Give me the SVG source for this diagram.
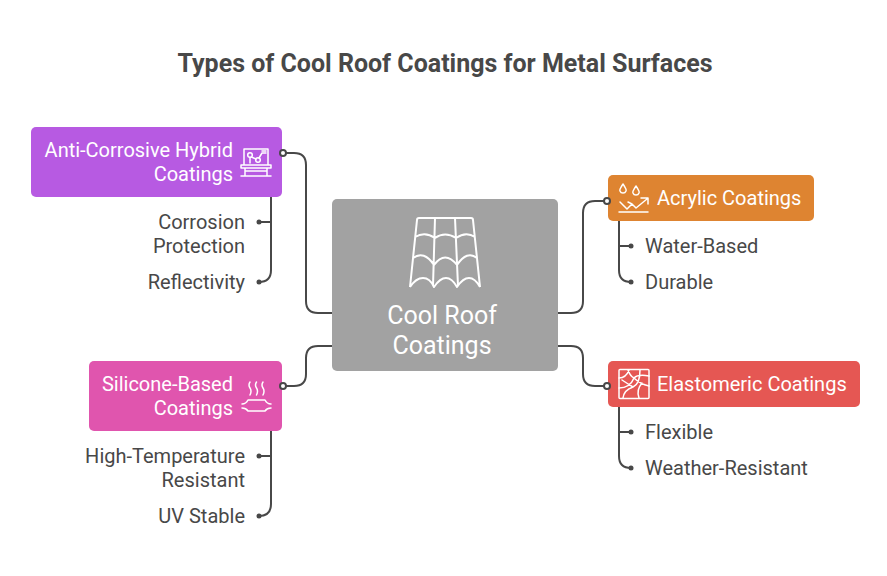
<svg xmlns="http://www.w3.org/2000/svg" width="887" height="576" viewBox="0 0 887 576">
<style>
text{font-family:Roboto,"Liberation Sans",sans-serif}
.t{fill:#fff;font-size:20px}
.b{fill:#fff;font-size:25px;text-anchor:middle}
.s{fill:#484848;font-size:20px}
.e{text-anchor:end}
.c{fill:none;stroke:#484848;stroke-width:2;stroke-linecap:round}
.d{fill:#484848}
.o{fill:#fff;stroke:#484848;stroke-width:2}
.i{fill:none;stroke:#fff;stroke-width:1.5;stroke-linecap:round;stroke-linejoin:round}
</style>
<rect width="887" height="576" fill="#fff"/>
<text id="title" x="445" y="72" text-anchor="middle" font-size="25" font-weight="700" fill="#484848">Types of Cool Roof Coatings for Metal Surfaces</text>
<g id="connectors">
<path class="c" d="M283 153H294Q306 153 306 165V301Q306 313 318 313H332"/>
<path class="c" d="M283 386H294Q306 386 306 374V358Q306 346 318 346H332"/>
<path class="c" d="M558 313H571Q583 313 583 301V213Q583 201 595 201H607"/>
<path class="c" d="M558 346H571Q583 346 583 358V374Q583 386 595 386H607"/>
<path class="c" d="M271 197V270Q271 282 259 282M271 222H259"/>
<path class="c" d="M271 431V504Q271 516 259 516M271 456H259"/>
<path class="c" d="M619 221V270Q619 282 631 282M619 246H631"/>
<path class="c" d="M619 407V456Q619 468 631 468M619 432H631"/>
<g class="d"><circle cx="259" cy="222" r="2.5"/><circle cx="259" cy="282" r="2.5"/><circle cx="259" cy="456" r="2.5"/><circle cx="259" cy="516" r="2.5"/><circle cx="631" cy="246" r="2.5"/><circle cx="631" cy="282" r="2.5"/><circle cx="631" cy="432" r="2.5"/><circle cx="631" cy="468" r="2.5"/></g>
</g>
<g id="node-center">
<rect x="332" y="199" width="226" height="172" rx="5" fill="#a2a2a2"/>
<path d="M419 218H471Q473 218 473 220L480 287M419 218Q417 218 417 220L410 287M435 218L433 286M455 218L458 286M415 237Q425 231 435 238Q445 231 456 238Q466 231 475 237M413 258Q424 250 434 265Q445 250 457 265Q467 250 477 258M410 287Q416 278 423 278Q430 278 434 287Q440 278 446 278Q452 278 457 287Q463 278 469 278Q475 278 480 287" fill="none" stroke="#fff" stroke-width="2" stroke-linejoin="round"/>
<text class="b" x="442" y="324">Cool Roof</text>
<text class="b" x="442" y="354">Coatings</text>
</g>
<g id="node-anti-corrosive">
<rect x="31" y="127" width="251" height="70" rx="5" fill="#b75ae2"/>
<text class="t e" x="233" y="157">Anti-Corrosive Hybrid</text>
<text class="t e" x="233" y="181">Coatings</text>
<path class="i" d="M244 165V149H268V165M241 165H271V168H241ZM245 168V176M267 168V176M245 171H267M241 176H271"/>
<circle class="i" cx="250" cy="155" r="2.3"/><circle class="i" cx="258" cy="160" r="2.3"/>
<path class="i" d="M251.500 157L256 159M250 157.500V163M259 158L262 153H266M262 151H266"/>
<circle class="o" cx="283" cy="153" r="3"/>
</g>
<g id="node-silicone">
<rect x="89" y="361" width="193" height="70" rx="5" fill="#e055ae"/>
<text class="t e" x="233" y="391">Silicone-Based</text>
<text class="t e" x="233" y="415">Coatings</text>
<path class="i" d="M250 382Q248 385 250 388T250 395M256.500 382Q254.500 385 256.500 388T256.500 395M263 382Q261 385 263 388T263 395M242 404Q246 404 248 400H265Q267 404 271 404M242 408Q246 408 248 411H265Q267 408 271 408"/>
<circle class="o" cx="283" cy="386" r="3"/>
</g>
<g id="node-acrylic">
<rect x="608" y="175" width="206" height="46" rx="5" fill="#de8431"/>
<text class="t" x="657" y="205">Acrylic Coatings</text>
<path class="i" d="M623 184Q619 190 620 191A3.200 3.200 0 0 0 626 191Q627 190 623 184ZM636 186Q632 192 633 193A3.200 3.200 0 0 0 639 193Q640 192 636 186ZM619 212H648M620 202L627 209L632 204L636 208L647 199M641 198H648V204M628 202L632 204"/>
<circle class="o" cx="607" cy="201" r="3"/>
</g>
<g id="node-elastomeric">
<rect x="608" y="361" width="252" height="46" rx="5" fill="#e55753"/>
<text class="t" x="657" y="391">Elastomeric Coatings</text>
<rect class="i" x="619" y="369.500" width="30" height="29" rx="1"/>
<path class="i" d="M619 378Q626 378 629 370M619 388Q630 388 634 378Q638 374 649 376M628 370Q630 376 634 378Q640 384 649 386M623 398Q624 390 633 387Q640 384 640 370M639 398Q636 390 642 383M622 380Q628 384 633 387"/>
<circle class="o" cx="607" cy="386" r="3"/>
</g>
<g id="sub-labels">
<text class="s e" x="245" y="229">Corrosion</text>
<text class="s e" x="245" y="253">Protection</text>
<text class="s e" x="245" y="289">Reflectivity</text>
<text class="s e" x="245" y="463">High-Temperature</text>
<text class="s e" x="245" y="487">Resistant</text>
<text class="s e" x="245" y="523">UV Stable</text>
<text class="s" x="645" y="253">Water-Based</text>
<text class="s" x="645" y="289">Durable</text>
<text class="s" x="645" y="439">Flexible</text>
<text class="s" x="645" y="475">Weather-Resistant</text>
</g>
</svg>
